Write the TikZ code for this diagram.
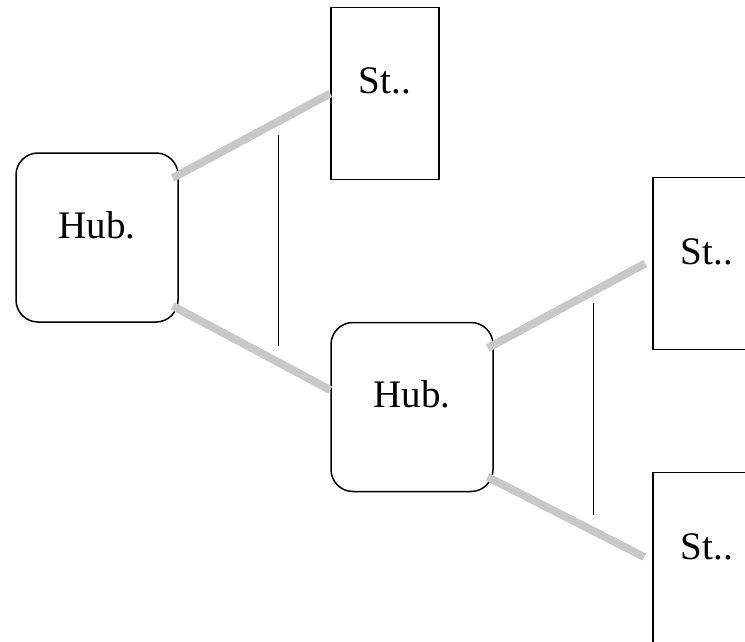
\documentclass[tikz,border=0pt]{standalone}
\usepackage{fontspec}
\setmainfont{Liberation Serif}
\tikzset{
  base/.style={draw=black, line width=1.5pt, inner sep=0pt, fill=white,
    font=\fontsize{39}{47}\selectfont, text height=27pt, text depth=26pt, align=center},
  hubbox/.style={base, rounded corners=22pt, minimum width=162pt, minimum height=169pt},
  stbox/.style={base, minimum width=108pt, minimum height=172pt},
  link/.style={draw={rgb,255:red,200;green,200;blue,200}, line width=8pt, line cap=butt},
  thin/.style={draw=black, line width=1pt}
}
\begin{document}
\begin{tikzpicture}[x=1pt,y=-1pt]
\useasboundingbox (0,0) rectangle (745,642);
\clip (0,0) rectangle (745,642);
\node[hubbox] (hubA) at (97,237.5) {Hub.};
\node[hubbox] (hubB) at (412,407) {Hub.};
\node[stbox] (stA) at (385,93.5) {St..};
\node[stbox] (stB) at (707,263.5) {St..};
\node[stbox] (stC) at (707,558.5) {St..};
\draw[link] ([xshift=-6pt,yshift=59.5pt]hubA.east) -- (stA.west);
\draw[link] ([xshift=-6pt,yshift=-68.5pt]hubA.east) -- ([yshift=17pt]hubB.west);
\draw[link] ([xshift=-6pt,yshift=59pt]hubB.east) -- ([xshift=-7pt]stB.west);
\draw[link] ([xshift=-6pt,yshift=-70pt]hubB.east) -- ([xshift=-8pt,yshift=1.5pt]stC.west);
\coordinate (t1a) at (278,135);
\coordinate (t1b) at (278,346);
\coordinate (t2a) at (593,303);
\coordinate (t2b) at (593,515);
\draw[thin] (t1a) -- (t1b);
\draw[thin] (t2a) -- (t2b);
\end{tikzpicture}
\end{document}
